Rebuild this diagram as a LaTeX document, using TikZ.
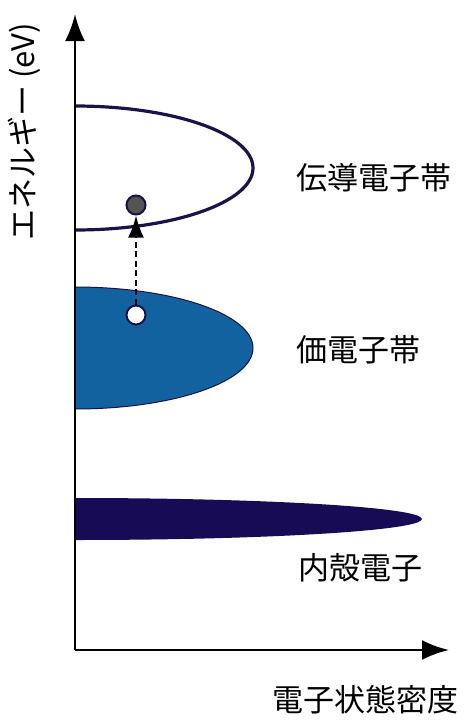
\documentclass[tikz,border=0pt]{standalone}
\usepackage{fontspec}
\setmainfont{Noto Sans CJK JP}
\usetikzlibrary{arrows.meta}
\definecolor{navy}{HTML}{1B1346}
\definecolor{valence}{HTML}{1262A0}
\definecolor{core}{HTML}{170B55}
\definecolor{electron}{HTML}{555252}
\begin{document}
\begin{tikzpicture}[x=1pt,y=-1pt,
  axis/.style={line width=2.8pt,-{Latex[length=27pt,width=20pt]}},
  lbl/.style={anchor=west,inner sep=0pt,font=\fontsize{31}{31}\selectfont},
  particle/.style={circle,draw=navy,line width=2pt,minimum size=19pt,inner sep=0pt}]
\useasboundingbox (0,0) rectangle (470,720);
% bands
\fill[core] (75,498) arc[start angle=-90,end angle=90,x radius=347,y radius=21] -- cycle;
\filldraw[fill=valence,draw=navy,line width=1pt] (75,287) arc[start angle=-90,end angle=90,x radius=178,y radius=61] -- cycle;
\draw[navy,line width=3.2pt] (75,106) arc[start angle=-90,end angle=90,x radius=178,y radius=62];
% axes
\coordinate (o) at (75,650);
\coordinate (ytop) at (75,14);
\coordinate (xend) at (449,650);
\draw[axis] (o) -- (ytop);
\draw[axis] (o) -- (xend);
% particles
\node[particle,fill=electron] (e) at (136,205) {};
\node[particle,fill=white] (h) at (136,315) {};
\draw[line width=2.4pt,dash pattern=on 6pt off 3.5pt,-{Latex[length=22pt,width=16pt]}] (h) -- (e);
% labels
\node[lbl] (cb) at (296,178) {伝導電子帯};
\node[lbl] (vb) at (296,350) {価電子帯};
\node[lbl] (cr) at (298,568) {内殻電子};
\node[lbl,anchor=center] (xl) at (365,700) {電子状態密度};
\node[lbl,anchor=center,rotate=90] (yl) at (24,132) {エネルギー (eV)};
\end{tikzpicture}
\end{document}
